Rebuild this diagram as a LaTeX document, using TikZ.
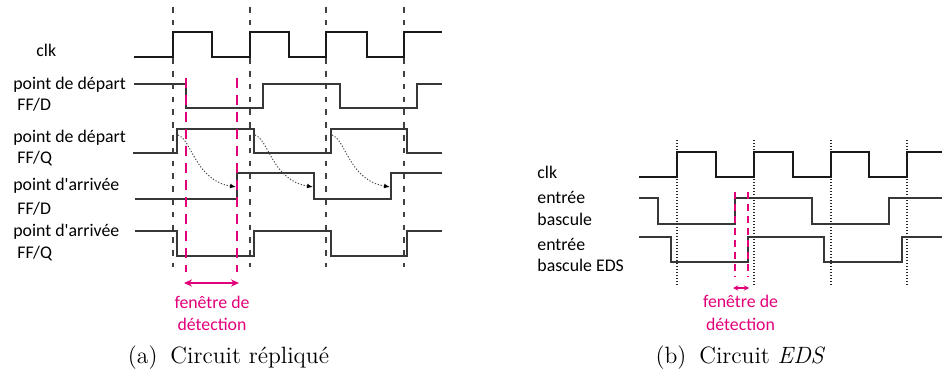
\documentclass[tikz,border=0pt]{standalone}
\usepackage{fontspec}
\newfontfamily\labfont{Carlito}
\usetikzlibrary{arrows.meta}
\definecolor{mag}{RGB}{226,0,122}
\definecolor{sig}{RGB}{55,55,55}
\tikzset{
  clksig/.style={line width=1.1pt, black!90, line join=miter},
  datasig/.style={line width=0.7pt, sig, line join=miter},
  gridline/.style={line width=0.55pt, black!75, dash pattern=on 2.8pt off 3.6pt},
  dotgrid/.style={line width=0.65pt, black!85, dash pattern=on 0.6pt off 0.9pt},
  winline/.style={line width=1pt, mag, dash pattern=on 5pt off 3.5pt},
  winlineb/.style={line width=0.65pt, mag, dash pattern=on 3.5pt off 2.5pt},
  lab/.style={font=\labfont\fontsize{8.9}{10.7}\selectfont, anchor=base west, inner sep=0pt},
  maglab/.style={font=\labfont\fontsize{8.9}{10.7}\selectfont, text=mag, anchor=base, inner sep=0pt},
  capt/.style={font=\fontsize{11.8}{14}\selectfont, anchor=base, inner sep=0pt},
  delay/.style={line width=0.5pt, black!70, dash pattern=on 0.6pt off 0.9pt,
    -{Latex[length=3pt,width=2.4pt,color=black]}},
}
\begin{document}
\begin{tikzpicture}[x=0.5pt,y=-0.5pt]
\useasboundingbox (0,0) rectangle (942,374);

% ---------- (a) left diagram ----------
\foreach \x in {173,250,326,404} \draw[gridline] (\x,7) -- (\x,267);

\draw[clksig] (134,57) -- (173,57) -- (173,32) -- (212,32) -- (212,57) -- (250,57) -- (250,32) -- (289,32) -- (289,57) -- (326,57) -- (326,32) -- (367,32) -- (367,57) -- (404,57) -- (404,32) -- (442,32);
\draw[datasig] (134,84) -- (186,84) -- (186,108) -- (263,108) -- (263,84) -- (340,84) -- (340,108) -- (417,108) -- (417,84) -- (442,84);
\draw[datasig] (133,153) -- (177,153) -- (177,129) -- (254,129) -- (254,153) -- (331,153) -- (331,129) -- (407,129) -- (407,153) -- (442,153);
\draw[datasig] (135,199) -- (237,199) -- (237,173) -- (314,173) -- (314,199) -- (391,199) -- (391,173) -- (442,173);
\draw[datasig] (135,231) -- (177,231) -- (177,256) -- (254,256) -- (254,231) -- (331,231) -- (331,256) -- (407,256) -- (407,231) -- (442,231);

\foreach \d in {0,77,154}{
  \coordinate (ds\d) at (178+\d,135);
  \coordinate (de\d) at (236+\d,187);
  \draw[delay] (ds\d) .. controls ++(14,5) and ++(-41,-7) .. (de\d);
}

\draw[winline] (186,78) -- (186,272);
\draw[winline] (237,78) -- (237,272);
\coordinate (wa1) at (184,283);
\coordinate (wa2) at (239,283);
\draw[mag, line width=0.7pt, {Stealth[length=4pt,width=3.6pt]}-{Stealth[length=4pt,width=3.6pt]}] (wa1) -- (wa2);
\node[maglab] (wla1) at (212,308) {fenêtre de};
\node[maglab] (wla2) at (212,330) {détection};

\node[lab] (la0) at (36,57) {clk};
\node[lab] (la1) at (13,90) {point de départ};
\node[lab] (la2) at (17,111) {FF/D};
\node[lab] (la3) at (13,142) {point de départ};
\node[lab] (la4) at (17,163) {FF/Q};
\node[lab] (la5) at (13,191) {point d'arrivée};
\node[lab] (la6) at (17,214) {FF/D};
\node[lab] (la7) at (13,236) {point d'arrivée};
\node[lab] (la8) at (17,258) {FF/Q};

\node[capt] (capa) at (228.5,363) {(a)\hspace{0.55em}Circuit répliqué};

% ---------- (b) right diagram ----------
\foreach \x in {677,754,831,907} \draw[dotgrid] (\x,140) -- (\x,286);

\draw[clksig] (639,177) -- (677,177) -- (677,152) -- (716,152) -- (716,177) -- (754,177) -- (754,152) -- (793,152) -- (793,177) -- (831,177) -- (831,152) -- (869,152) -- (869,177) -- (907,177) -- (907,152) -- (942,152);
\draw[datasig] (639,198) -- (658,198) -- (658,224) -- (735,224) -- (735,198) -- (812,198) -- (812,224) -- (889,224) -- (889,198) -- (942,198);
\draw[datasig] (639,237) -- (671,237) -- (671,262) -- (748,262) -- (748,237) -- (824,237) -- (824,262) -- (902,262) -- (902,237) -- (942,237);

\draw[winlineb] (735,192) -- (735,277);
\draw[winlineb] (748,192) -- (748,277);
\coordinate (wb1) at (733,288);
\coordinate (wb2) at (749,288);
\draw[mag, line width=0.6pt, {Stealth[length=2.6pt,width=2.6pt]}-{Stealth[length=2.6pt,width=2.6pt]}] (wb1) -- (wb2);
\node[maglab] (wlb1) at (740.5,307) {fenêtre de};
\node[maglab] (wlb2) at (740.5,330) {détection};

\node[lab] (lb0) at (537,178) {clk};
\node[lab] (lb1) at (537,203) {entrée};
\node[lab] (lb2) at (537,225) {bascule};
\node[lab] (lb3) at (537,250) {entrée};
\node[lab] (lb4) at (537,271) {bascule EDS};

\node[capt] (capb) at (740.5,363) {(b)\hspace{0.55em}Circuit \textit{EDS}};
\end{tikzpicture}
\end{document}
